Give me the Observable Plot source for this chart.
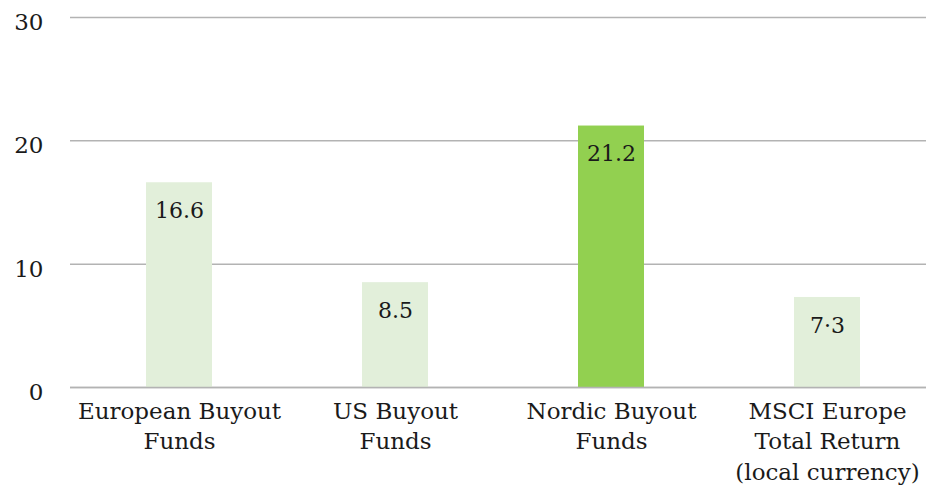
<!DOCTYPE html>
<html>
<head>
<meta charset="utf-8">
<script src="https://cdn.jsdelivr.net/npm/d3@7"></script>
<script src="https://cdn.jsdelivr.net/npm/@observablehq/plot@0.6"></script>
<style>
  html, body { margin: 0; padding: 0; background: #fff; }
  svg { display: block; }
</style>
</head>
<body>
<div id="chart"></div>
<script>
const categories = ["European Buyout Funds", "US Buyout Funds", "Nordic Buyout Funds", "MSCI Europe Total Return (local currency)"];
const categoryLabels = ["European Buyout\nFunds", "US Buyout\nFunds", "Nordic Buyout\nFunds", "MSCI Europe\nTotal Return\n(local currency)"];
const values = [16.6, 8.5, 21.2, 7.3];
const valueLabels = ["16.6", "8.5", "21.2", "7·3"];
const highlighted = [false, false, true, false];
const yTicks = [0, 10, 20, 30];

const data = categories.map((c, i) => ({
  cat: c, label: categoryLabels[i], value: values[i], text: valueLabels[i], hi: highlighted[i]
}));

const font = "'DejaVu Serif', 'Liberation Serif', serif";

const chart = Plot.plot({
  width: 926,
  height: 486,
  marginTop: 17,
  marginBottom: 99,
  marginLeft: 70,
  marginRight: 0,
  style: { fontFamily: font, background: "#fff" },
  x: { domain: categories, range: [70, 935], paddingInner: 0.695, paddingOuter: 0.3475, axis: null },
  y: { domain: [0, 30], axis: null },
  marks: [
    Plot.ruleY(yTicks, { stroke: "#b3b3b3", strokeWidth: 1.5 }),
    Plot.barY(data, { x: "cat", y: "value", fill: d => d.hi ? "#92d050" : "#e2efda" }),
    Plot.ruleY([0], { stroke: "#b3b3b3", strokeWidth: 1.5 }),
    Plot.text(data, { x: "cat", y: "value", text: "text", dy: 28, fontSize: 22, fill: "#1a1a1a" }),
    Plot.text(data, { x: "cat", y: 0, text: "label", lineAnchor: "top", dy: 10, lineHeight: 1.32, fontSize: 23, fill: "#1a1a1a" }),
    Plot.text(yTicks, { y: d => d, text: d => String(d), frameAnchor: "left", dx: -27, textAnchor: "end", dy: 5, fontSize: 23, fill: "#1a1a1a" })
  ]
});
document.getElementById("chart").appendChild(chart);
</script>
</body>
</html>
